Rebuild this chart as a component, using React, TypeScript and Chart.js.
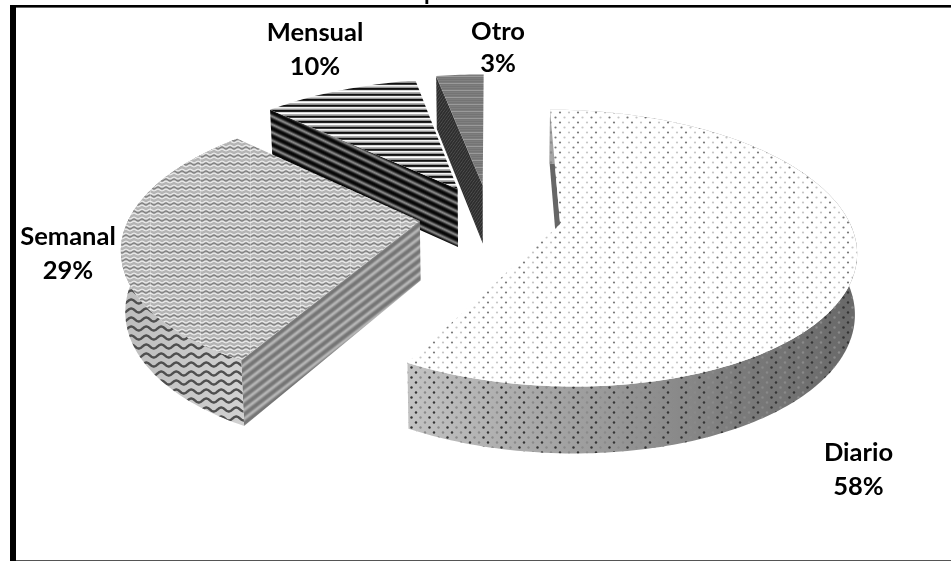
import React, { useEffect, useRef } from "react";
import { Chart, registerables } from "chart.js";

Chart.register(...registerables);

const categories = ["Diario", "Semanal", "Mensual", "Otro"];
const shares = [58, 29, 10, 3];

// Painter's order: the slices at the back go first.
const drawOrder = [2, 3, 1, 0];

// Ground-plane perspective used to lay the flat slices out as a tilted disc.
const VIEW = { x0: 489, y0: 216, rx: 290, ry: 132.8, persp: 0.174, explode: 0.24 };
// Per-slice adjustment of radius and horizontal slide for the exploded pieces.
const radiusScale = [0.99, 1, 1.05, 1.07];
const slideX = [3, 0, 1, 0];

const LABEL_FONT = "bold 25.5px Lato";
const labelAnchors = [
  { x: 858.5, y: 453, gap: 34 },
  { x: 68, y: 237, gap: 34 },
  { x: 315, y: 33, gap: 34 },
  { x: 498, y: 32, gap: 32 },
];

type Pt = { x: number; y: number };

function tile(w: number, h: number, paint: (c: CanvasRenderingContext2D) => void) {
  const cv = document.createElement("canvas");
  cv.width = w;
  cv.height = h;
  paint(cv.getContext("2d") as CanvasRenderingContext2D);
  return cv;
}

function bands(period: number, colours: string[]) {
  return tile(1, period, (c) => {
    for (let i = 0; i < period; i++) {
      c.fillStyle = colours[i % colours.length];
      c.fillRect(0, i, 1, 1);
    }
  });
}

function waves(w: number, h: number, stroke: string, lw: number, amp: number) {
  return tile(w, h, (c) => {
    c.strokeStyle = stroke;
    c.lineWidth = lw;
    c.beginPath();
    for (let x = -1; x <= w + 1; x += 0.5) {
      const y = h / 2 + amp * Math.sin((x / w) * Math.PI * 2);
      if (x === -1) c.moveTo(x, y);
      else c.lineTo(x, y);
    }
    c.stroke();
  });
}

function dots(bg: string | null, dark: string, soft: string, r: number) {
  return tile(18, 10, (c) => {
    if (bg) {
      c.fillStyle = bg;
      c.fillRect(0, 0, 18, 10);
    }
    const spot = (x: number, y: number, col: string) => {
      c.fillStyle = col;
      c.beginPath();
      c.arc(x, y, r, 0, Math.PI * 2);
      c.fill();
    };
    spot(2, 2.5, dark);
    spot(11, 2.5, soft);
    spot(6.5, 7.5, soft);
    spot(15.5, 7.5, dark);
  });
}

function project(u: number, v: number): Pt {
  const d = 1 - VIEW.persp * v;
  return { x: VIEW.x0 + (VIEW.rx * u) / d, y: VIEW.y0 + (VIEW.ry * v) / d };
}

// The lower face of the slab: wall height grows toward the viewer.
function drop(p: Pt): Pt {
  const inset = p.x < 490 ? 0.012 * (490 - p.x) : -0.006 * (p.x - 490);
  return { x: p.x + inset, y: p.y + 54 + 0.045 * (p.y - 100) };
}

function trace(ctx: CanvasRenderingContext2D, pts: Pt[]) {
  ctx.beginPath();
  pts.forEach((p, i) => (i ? ctx.lineTo(p.x, p.y) : ctx.moveTo(p.x, p.y)));
  ctx.closePath();
}

function skewed(ctx: CanvasRenderingContext2D, cv: HTMLCanvasElement, slope: number) {
  const pat = ctx.createPattern(cv, "repeat") as CanvasPattern;
  pat.setTransform(new DOMMatrix([1, slope, 0, 1, 0, 0]));
  return pat;
}

function sliceStyles(ctx: CanvasRenderingContext2D) {
  const diarioGrad = ctx.createLinearGradient(410, 0, 858, 0);
  diarioGrad.addColorStop(0, "#c2c2c2");
  diarioGrad.addColorStop(0.4, "#9d9d9d");
  diarioGrad.addColorStop(0.75, "#7a7a7a");
  diarioGrad.addColorStop(1, "#686868");
  const semanalGrad = ctx.createLinearGradient(120, 0, 250, 0);
  semanalGrad.addColorStop(0, "#bdbdbd");
  semanalGrad.addColorStop(1, "#d2d2d2");

  const seams = tile(50, 1, (c) => {
    c.fillStyle = "rgba(255,255,255,0.3)";
    c.fillRect(0, 0, 1, 1);
  });

  return [
    {
      top: [ctx.createPattern(dots("#ffffff", "#7a7a7a", "#c6c6c6", 1.1), "repeat")],
      rim: [diarioGrad, ctx.createPattern(dots(null, "#333333", "#8a8a8a", 1.2), "repeat")],
      side: ["#666666"],
    },
    {
      top: [
        "#b4b4b4",
        ctx.createPattern(waves(8, 4, "#eeeeee", 1.2, 0.8), "repeat"),
        ctx.createPattern(waves(8, 8, "#5a5a5a", 0.8, 0.9), "repeat"),
        ctx.createPattern(seams, "repeat"),
      ],
      rim: [semanalGrad, ctx.createPattern(waves(15, 9, "#4f4f4f", 2.4, 2), "repeat")],
      side: [
        skewed(
          ctx,
          bands(9, ["#757575", "#767676", "#808080", "#989898", "#b0b0b0", "#b6b6b6", "#a6a6a6", "#8f8f8f", "#7b7b7b"]),
          -0.776
        ),
      ],
    },
    {
      top: [ctx.createPattern(bands(11, ["#111111", "#222222", "#d8d8d8", "#ffffff", "#b0b0b0", "#8f8f8f", "#111111", "#3a3a3a", "#f2f2f2", "#d0d0d0", "#959595"]), "repeat")],
      rim: [],
      side: [
        skewed(ctx, bands(8, ["#050505", "#0d0d0d", "#2a2a2a", "#606060", "#8a8a8a", "#6a6a6a", "#303030", "#0f0f0f"]), 0.47),
      ],
    },
    {
      top: [ctx.createPattern(bands(7, ["#777777", "#7e7e7e", "#747474", "#808080", "#757575", "#7c7c7c", "#9a9a9a"]), "repeat")],
      rim: [],
      side: [skewed(ctx, bands(4, ["#2a2a2a", "#333333", "#4f4f4f", "#333333"]), 2.6)],
    },
  ];
}

function fillLayers(ctx: CanvasRenderingContext2D, pts: Pt[], layers: any[]) {
  trace(ctx, pts);
  layers.forEach((f) => {
    ctx.fillStyle = f;
    ctx.fill();
  });
}

const slab3d = {
  id: "slab3d",
  beforeDatasetDraw(chart: any) {
    const ctx: CanvasRenderingContext2D = chart.ctx;
    const arcs = chart.getDatasetMeta(0).data;
    const styles = sliceStyles(ctx);
    ctx.save();
    drawOrder.forEach((i) => {
      const arc = arcs[i];
      const { startAngle, endAngle } = arc.getProps(["startAngle", "endAngle"], true);
      const mid = (startAngle + endAngle) / 2;
      const au = VIEW.explode * Math.cos(mid);
      const av = VIEW.explode * Math.sin(mid);
      const k = radiusScale[i];
      const steps = Math.max(4, Math.ceil((endAngle - startAngle) / 0.02));
      const place = (u: number, v: number): Pt => {
        const p = project(u, v);
        return { x: p.x + slideX[i], y: p.y };
      };
      const rim: Pt[] = [];
      for (let s = 0; s <= steps; s++) {
        const t = startAngle + ((endAngle - startAngle) * s) / steps;
        rim.push(place(au + k * Math.cos(t), av + k * Math.sin(t)));
      }
      const apex = place(au, av);
      const st = styles[i];
      fillLayers(ctx, [apex, rim[0], drop(rim[0]), drop(apex)], st.side);
      if (st.rim.length) {
        fillLayers(ctx, [...rim, ...rim.map(drop).reverse()], st.rim);
      }
      fillLayers(ctx, [apex, ...rim], st.top);
    });
    ctx.restore();
    return false;
  },
  afterDraw(chart: any) {
    const ctx: CanvasRenderingContext2D = chart.ctx;
    ctx.save();
    // Plot frame: heavy left and top rules, hairline at the foot.
    ctx.fillStyle = "#000000";
    ctx.fillRect(10, 5, 6, 556);
    ctx.fillRect(10, 5, 941, 2.6);
    ctx.fillStyle = "#555555";
    ctx.fillRect(16, 560, 935, 1);

    // Slice captions: name above, share below.
    ctx.fillStyle = "#000000";
    ctx.font = LABEL_FONT;
    ctx.textAlign = "center";
    ctx.textBaseline = "middle";
    categories.forEach((name, i) => {
      const a = labelAnchors[i];
      ctx.fillText(name, a.x, a.y);
      ctx.fillText(`${shares[i]}%`, a.x, a.y + a.gap);
    });

    // Descender of the heading, which runs off the top edge.
    ctx.font = "bold 23px Lato";
    ctx.textBaseline = "alphabetic";
    ctx.textAlign = "left";
    ctx.save();
    ctx.beginPath();
    ctx.rect(0, 0, 951, 6);
    ctx.clip();
    ctx.fillText("p", 424, 0);
    ctx.restore();
    ctx.restore();
  },
};

export default function App() {
  const ref = useRef<HTMLCanvasElement>(null);
  useEffect(() => {
    document.body.style.margin = "0";
    const chart = new Chart(ref.current as HTMLCanvasElement, {
      type: "pie",
      data: {
        labels: categories,
        datasets: [{ data: shares, backgroundColor: ["#ffffff", "#c6c6c6", "#555555", "#777777"] }],
      },
      options: {
        responsive: false,
        animation: false,
        plugins: { legend: { display: false }, tooltip: { enabled: false }, title: { display: false } },
      },
      plugins: [slab3d],
    } as any);
    return () => chart.destroy();
  }, []);
  return <canvas ref={ref} width={951} height={561} style={{ display: "block", background: "#fff" }} />;
}
